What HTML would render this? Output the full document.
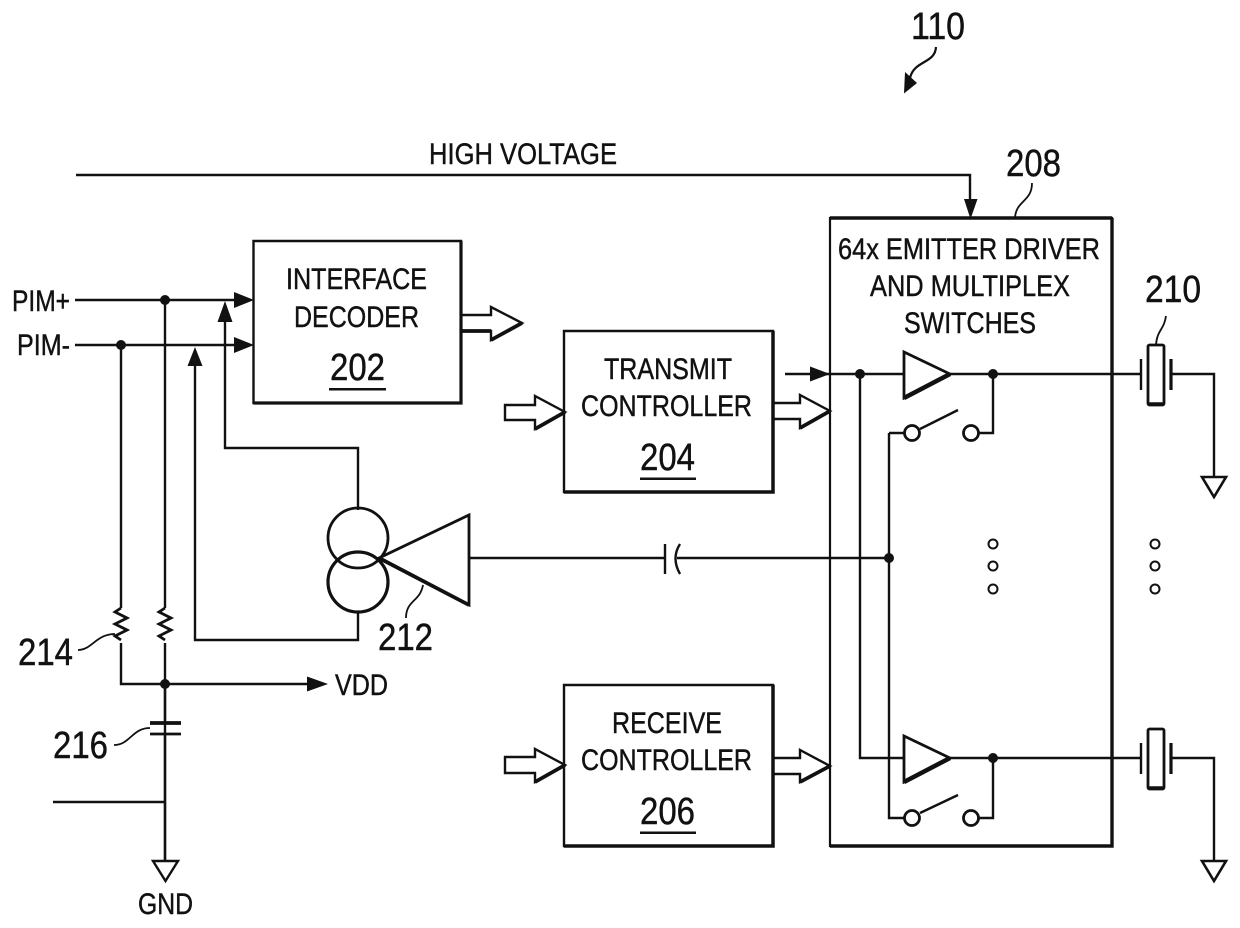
<!DOCTYPE html>
<html><head><meta charset="utf-8"><style>html,body{margin:0;padding:0;background:#fff}svg{display:block}
text{font-family:"Liberation Sans",sans-serif;fill:#111;stroke:#111;stroke-width:.45}</style></head><body>
<svg width="1240" height="928" viewBox="0 0 1240 928" xmlns="http://www.w3.org/2000/svg">
<rect width="1240" height="928" fill="#fff"/>
<g fill="none" stroke="#111" stroke-width="2.400">
<!-- boxes -->
<path d="M253.500 241H461V403H253.500Z" stroke-width="2.400"/>
<path d="M461 241V403H253.500" stroke-width="3.200"/>
<path d="M564 331H773V492H564Z" stroke-width="2.400"/>
<path d="M773 331V492H564" stroke-width="3.500"/>
<path d="M564 685H773V846H564Z" stroke-width="2.400"/>
<path d="M773 685V846H564" stroke-width="3.500"/>
<path d="M830 218H1112V846H830Z" stroke-width="2.200"/>
<path d="M1112 218V846H830M830 218H1112" stroke-width="3.400"/>
<!-- top line -->
<path d="M76 175H970V205"/>
<!-- PIM lines -->
<path d="M75 300H235M75 345H235" />
<path d="M165 300V608M165 643V860M121 345V608M121 643V684H310M53 802H165"/>
<path d="M165 608l-6 4 12 6-12 6 12 6-12 6 6 4" stroke-width="2.800"/>
<path d="M121 608l-6 4 12 6-12 6 12 6-12 6 6 4" stroke-width="2.800"/>
<path d="M150 723H181" stroke-width="3.800"/>
<path d="M150 734H181" stroke-width="2.800"/>
<path d="M165 684V722M165 735V860" fill="none"/>
<path d="M153 861H178L165.500 881Z"/>
<!-- feedback -->
<path d="M225 320V448H358V510"/>
<path d="M195 365V640H358V612"/>
<circle cx="358" cy="538" r="30" stroke-width="2.800"/>
<circle cx="358" cy="582" r="30" stroke-width="3.200"/>
<path d="M379 558L469 515V605Z" stroke-width="2.800"/>
<path d="M379 558L469 605" stroke-width="3.800"/>
<path d="M469 558H664M677 558H889"/>
<path d="M665 544V574"/>
<path d="M680 544Q671 558 680 574"/>
<!-- hollow arrows -->
<path d="M461 315H491V307L522 323L491 340V331H461" stroke-width="2.400"/>
<path d="M491 340L522 323M461 331H491" stroke-width="3.800"/>
<path d="M505 405H535V396L565 412L535 429V420H505Z" stroke-width="2.400"/>
<path d="M535 429L565 412" stroke-width="3.800"/>
<path d="M505 757H535V749L565 765L535 782V773H505Z" stroke-width="2.400"/>
<path d="M535 782L565 765" stroke-width="3.800"/>
<path d="M773 403H800V395L830 411L800 428V419H773" stroke-width="2.400"/>
<path d="M800 428L830 411" stroke-width="3.800"/>
<path d="M773 758H800V750L830 766L800 782V774H773" stroke-width="2.400"/>
<path d="M800 782L830 766" stroke-width="3.800"/>
<!-- emitter internals -->
<path d="M785 374H904"/>
<path d="M860 374V758H904M889 433V818H905M889 433H905"/>
<path d="M904 352L950 374L904 398Z" stroke-width="2.800"/>
<path d="M904 398L950 374" stroke-width="4.500"/>
<path d="M904 736L950 758L904 782Z" stroke-width="2.800"/>
<path d="M904 782L950 758" stroke-width="4.500"/>
<path d="M950 374H1141M950 758H1141"/>
<path d="M993 374V433H978M993 758V818H978"/>
<circle cx="912" cy="433" r="7.500" stroke-width="2.800"/>
<circle cx="971" cy="433" r="7.500" stroke-width="2.800"/>
<circle cx="912" cy="818" r="7.500" stroke-width="2.800"/>
<circle cx="971" cy="818" r="7.500" stroke-width="2.800"/>
<path d="M920 429L958 410M920 813L958 795"/>
<!-- crystals -->
<path d="M1141 359V390M1141 743V774"/>
<path d="M1171 359V390M1171 743V774" stroke-width="3.200"/>
<rect x="1148" y="345" width="16" height="60" rx="1.500" stroke-width="2.800"/>
<rect x="1148" y="729" width="16" height="60" rx="1.500" stroke-width="2.800"/>
<path d="M1148 404H1164M1148 788H1164" stroke-width="3.500"/>
<path d="M1171 374H1214V477M1171 758H1214V861"/>
<path d="M1202 477H1226L1214 497Z" stroke-width="2.600"/>
<path d="M1202 861H1226L1214 881Z" stroke-width="2.600"/>
<g stroke-width="2">
<circle cx="993" cy="544" r="4.500"/><circle cx="993" cy="566" r="4.500"/><circle cx="993" cy="589" r="4.500"/>
<circle cx="1155" cy="544" r="4.500"/><circle cx="1155" cy="566" r="4.500"/><circle cx="1155" cy="589" r="4.500"/>
</g>
<!-- leaders -->
<g stroke-width="1.800">
<path d="M78 650C92 650 96 634 115 634"/>
<path d="M114 745C130 745 132 728 150 728"/>
<path d="M406 618C406 600 420 602 423 585"/>
<path d="M1156 345C1157 330 1164 330 1166 316"/>
<path d="M1015 218C1016 200 1032 202 1032 183"/>
<path d="M936 47C935 64 914 60 910 78" stroke-width="2.200"/>
</g>
</g>
<!-- solid heads + dots -->
<g fill="#111" stroke="none">
<path d="M964 199H977.500L970.500 219Z"/>
<path d="M234 292L254 300L234 308Z"/>
<path d="M234 337L254 345L234 353Z"/>
<path d="M225 301L232.500 322H217.500Z"/>
<path d="M195 347L202.500 366H187.500Z"/>
<path d="M328 684L307 691.500V676.500Z"/>
<path d="M830 374L810 381.500V366.500Z"/>
<path d="M904 93.500L905 72L917 83Z"/>
<circle cx="165" cy="300" r="5"/><circle cx="121" cy="345" r="5"/><circle cx="165" cy="684" r="5"/>
<circle cx="860" cy="374" r="5"/><circle cx="993" cy="374" r="5"/><circle cx="889" cy="558" r="5"/><circle cx="993" cy="758" r="5"/>
<rect x="329" y="388" width="57" height="2.500"/>
<rect x="640" y="477.500" width="56" height="2.500"/>
<rect x="640" y="831.500" width="56" height="2.500"/>
</g>
<!-- text -->
<g font-size="30">
<text x="286" y="289" textLength="141" lengthAdjust="spacingAndGlyphs">INTERFACE</text>
<text x="294" y="327" textLength="125" lengthAdjust="spacingAndGlyphs">DECODER</text>
<text x="604" y="379" textLength="128" lengthAdjust="spacingAndGlyphs">TRANSMIT</text>
<text x="581" y="416" textLength="171" lengthAdjust="spacingAndGlyphs">CONTROLLER</text>
<text x="612" y="733" textLength="110" lengthAdjust="spacingAndGlyphs">RECEIVE</text>
<text x="581" y="770" textLength="171" lengthAdjust="spacingAndGlyphs">CONTROLLER</text>
<text x="838" y="259" textLength="262" lengthAdjust="spacingAndGlyphs">64x EMITTER DRIVER</text>
<text x="870" y="296" textLength="200" lengthAdjust="spacingAndGlyphs">AND MULTIPLEX</text>
<text x="904" y="333" textLength="132" lengthAdjust="spacingAndGlyphs">SWITCHES</text>
<text x="429" y="164" textLength="188" lengthAdjust="spacingAndGlyphs">HIGH VOLTAGE</text>
<text x="12" y="311" textLength="58" lengthAdjust="spacingAndGlyphs">PIM+</text>
<text x="17" y="355" textLength="53" lengthAdjust="spacingAndGlyphs">PIM-</text>
<text x="335" y="695" textLength="53" lengthAdjust="spacingAndGlyphs">VDD</text>
<text x="138" y="914" textLength="55" lengthAdjust="spacingAndGlyphs">GND</text>
</g>
<g font-size="38">
<text x="330" y="380" textLength="55" lengthAdjust="spacingAndGlyphs">202</text>
<text x="640" y="470" textLength="55" lengthAdjust="spacingAndGlyphs">204</text>
<text x="640" y="824" textLength="55" lengthAdjust="spacingAndGlyphs">206</text>
<text x="1006" y="176" textLength="55" lengthAdjust="spacingAndGlyphs">208</text>
<text x="911" y="39" textLength="54" lengthAdjust="spacingAndGlyphs">110</text>
<text x="1145" y="302" textLength="56" lengthAdjust="spacingAndGlyphs">210</text>
<text x="18" y="665" textLength="55" lengthAdjust="spacingAndGlyphs">214</text>
<text x="53" y="758" textLength="55" lengthAdjust="spacingAndGlyphs">216</text>
<text x="378" y="650" textLength="55" lengthAdjust="spacingAndGlyphs">212</text>
</g>
</svg>
</body></html>
